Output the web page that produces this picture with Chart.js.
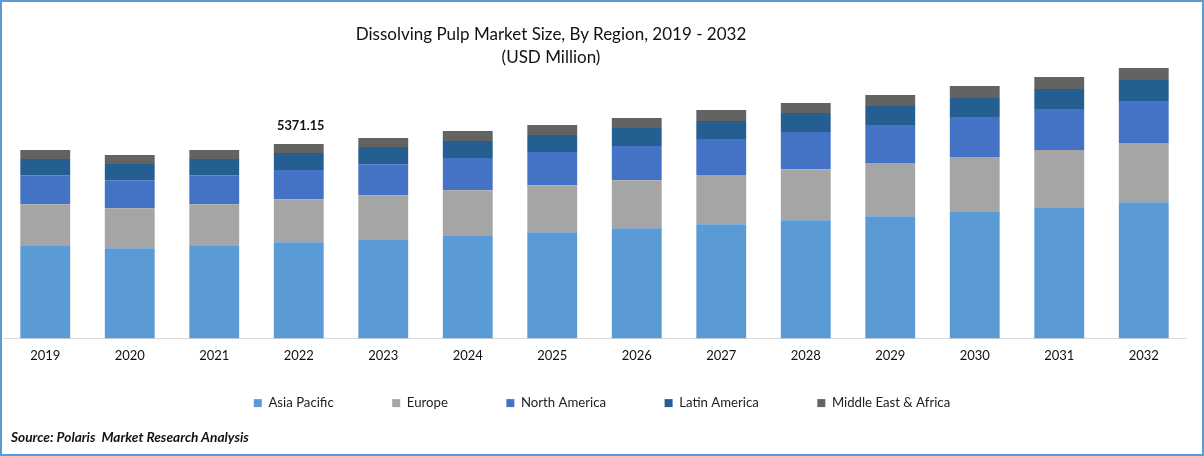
<!DOCTYPE html>
<html>
<head>
<meta charset="utf-8">
<script src="https://cdn.jsdelivr.net/npm/chart.js@4"></script>
<style>
  html, body { margin: 0; padding: 0; background: #fff; overflow: hidden; }
  #wrap { position: relative; width: 1204px; height: 456px; font-family: Lato, sans-serif; color: #111; }
  #frame { position: absolute; inset: 0; border: 2px solid #5B9BD5; box-sizing: border-box; pointer-events: none; }
  #title { position: absolute; left: 251px; width: 600px; top: 22px; text-align: center; font-size: 17px; line-height: 23px; }
  #source { position: absolute; left: 11px; top: 428px; font-size: 13.7px; font-weight: bold; font-style: italic; }
  canvas { position: absolute; left: 0; top: 0; }
</style>
</head>
<body>
<div id="wrap">
  <canvas id="chart" width="1204" height="456"></canvas>
  <div id="title">Dissolving Pulp Market Size, By Region, 2019 - 2032<br>(USD Million)</div>
  <div id="source">Source: Polaris&nbsp; Market Research Analysis</div>
  <div id="frame"></div>
</div>
<script>
var years = ["2019", "2020", "2021", "2022", "2023", "2024", "2025", "2026", "2027", "2028", "2029", "2030", "2031", "2032"];
var asiaPacific = [2575, 2492, 2575, 2658, 2741, 2852, 2935, 3046, 3157, 3267, 3378, 3517, 3627, 3766];
var europe = [1135, 1108, 1135, 1191, 1218, 1246, 1301, 1329, 1357, 1412, 1468, 1495, 1578, 1634];
var northAmerica = [803, 775, 803, 803, 858, 886, 914, 941, 997, 1025, 1052, 1108, 1135, 1163];
var latinAmerica = [443, 443, 443, 471, 471, 471, 471, 498, 498, 526, 526, 526, 554, 581];
var middleEastAfrica = [249, 249, 249, 249, 249, 277, 277, 277, 305, 277, 305, 332, 332, 332];
var totalLabels = { "2022": "5371.15" };

function series(name, values, color) {
    return { label: name, data: values, backgroundColor: color, barPercentage: 0.59, categoryPercentage: 1 };
}

// legend sits under the axis labels but must not push the plot up
var legendPlace = {
    id: "legendPlace",
    beforeInit(chart) {
        var fit = chart.legend.fit;
        chart.legend.fit = function () {
            fit.call(this);
            this.height = 0;
        };
    },
    afterLayout(chart) {
        chart.legend.top = 338;
        chart.legend.bottom = 456;
        chart.legend.height = 118;
    }
};

// the one total printed above a bar
var totalLabel = {
    id: "totalLabel",
    afterDatasetsDraw(chart) {
        var ctx = chart.ctx;
        var top = chart.getDatasetMeta(4);
        ctx.save();
        ctx.font = "bold 12.8px Lato, sans-serif";
        ctx.fillStyle = "#111";
        ctx.textAlign = "center";
        years.forEach(function (y, i) {
            if (totalLabels[y]) {
                ctx.fillText(totalLabels[y], top.data[i].x + 2, top.data[i].y - 15.5 - 3);
            }
        });
        ctx.restore();
    }
};

new Chart("chart", {
    type: "bar",
    data: {
        labels: years,
        datasets: [
            series("Asia Pacific", asiaPacific, "#5B9BD5"),
            series("Europe", europe, "#A5A5A5"),
            series("North America", northAmerica, "#4472C4"),
            series("Latin America", latinAmerica, "#255E91"),
            series("Middle East & Africa", middleEastAfrica, "#636363")
        ]
    },
    plugins: [legendPlace, totalLabel],
    options: {
        responsive: false,
        animation: false,
        layout: { padding: { left: 3, right: 3, top: 49, bottom: 90 } },
        plugins: {
            title: { display: false },
            tooltip: { enabled: false },
            legend: {
                position: "bottom",
                labels: {
                    boxWidth: 8,
                    boxHeight: 8,
                    padding: 58.5,
                    color: "#222",
                    font: { family: "Lato, sans-serif", size: 13.2 }
                }
            }
        },
        scales: {
            x: {
                stacked: true,
                grid: { display: false },
                border: { color: "#D9D9D9", width: 1 },
                ticks: { color: "#111", padding: 2, maxRotation: 0, font: { family: "Lato, sans-serif", size: 13 } }
            },
            y: {
                stacked: true,
                position: "right",
                min: 0,
                max: 8000,
                grid: { display: false },
                border: { display: false },
                ticks: { display: false },
                afterFit(scale) { scale.width = 15; }
            }
        }
    }
});
</script>
</body>
</html>
